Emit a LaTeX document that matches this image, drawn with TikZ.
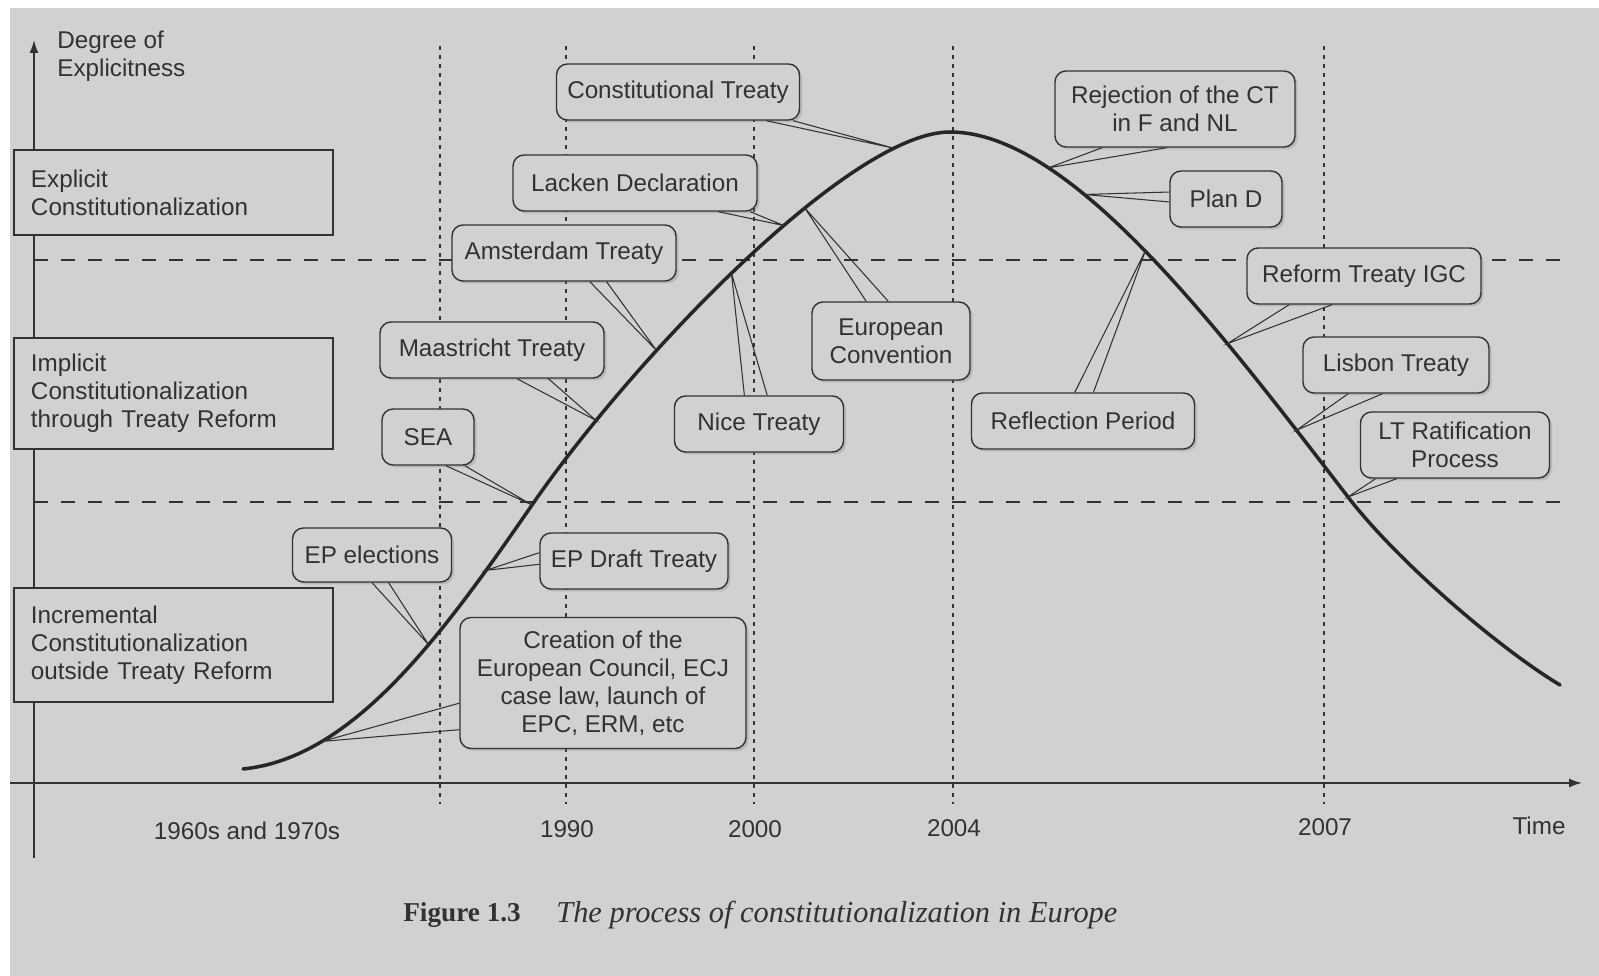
\documentclass[tikz,border=0pt]{standalone}
\usepackage{fontspec}
\setmainfont{Liberation Serif}
\setsansfont{Liberation Sans}
\usetikzlibrary{arrows.meta,shadows}
\definecolor{paper}{RGB}{209,209,209}
\definecolor{ink}{RGB}{50,50,50}
\newcommand{\labelfont}{\sffamily\fontsize{13.8}{16}\selectfont}
\tikzset{
    period/.style={
    rectangle,draw=ink,fill=paper,line width=0.8pt,text=ink,
    text width=57mm,inner xsep=3.4mm,align=left,font=\labelfont
    },
    event/.style={
    rectangle,rounded corners=2.2mm,draw=ink,fill=paper,line width=0.8pt,
    text=ink,align=center,minimum height=11.2mm,inner sep=1pt,font=\labelfont,
    drop shadow={shadow xshift=0.5mm,shadow yshift=-0.5mm,opacity=0.3}
    },
    callout/.style={draw=ink,line width=0.6pt},
    axis/.style={draw=ink,line width=0.9pt,-{Latex[length=2.6mm,width=1.8mm]}},
    level/.style={draw=ink,line width=0.8pt,dash pattern=on 2.8mm off 2.6mm},
    year/.style={draw=ink,line width=0.9pt,dash pattern=on 0.8mm off 1mm},
    tick/.style={text=ink,font=\labelfont},
    curve/.style={draw=black!85,line width=2pt,line cap=round},
}
\begin{document}
\begin{tikzpicture}[x=0.2mm,y=-0.2mm]
  \useasboundingbox (0,0) rectangle (1599,976);
  \fill[white] (0,0) rectangle (1599,976);
  \fill[paper] (10,8) rectangle (1599,976);

  \draw[level] (34,260) -- (1570,260);
  \draw[level] (34,502) -- (1570,502);
  \foreach \x in {440,566,754,953,1324}
    \draw[year] (\x,46) -- (\x,804);
  \draw[axis] (34,858) -- (34,40);
  \draw[axis] (10,783) -- (1582,783);

  % the curve, with the points the labels point at
  \draw[curve] (243,769) coordinate (c0)
    .. controls (353,758) and (442,635.5) .. (532,505) coordinate (tsea)
      coordinate[pos=0.25] (tcreat) coordinate[pos=0.62] (tepel)
      coordinate[pos=0.83] (tepdt)
    .. controls (632,360) and (850,132) .. (950,132) coordinate (ctop)
      coordinate[pos=0.18] (tmaas) coordinate[pos=0.32] (tamst)
      coordinate[pos=0.48] (tnice) coordinate[pos=0.59] (tlacken)
      coordinate[pos=0.635] (tconv) coordinate[pos=0.84] (tct)
    .. controls (1070,132) and (1218,328) .. (1348,497) coordinate (tltrat)
      coordinate[pos=0.26] (trejct) coordinate[pos=0.35] (tpland)
      coordinate[pos=0.5] (treflect) coordinate[pos=0.7] (treform)
      coordinate[pos=0.87] (tlisbon)
    .. controls (1398,562) and (1500,649) .. (1560,685) coordinate (c2);

  \node[tick,align=left,anchor=west,inner sep=0pt] (ylab) at (57,56) {Degree of\\Explicitness};
  \node[period,minimum height=17mm] (explicit) at (173.5,192.5) {Explicit\\Constitutionalization};
  \node[period,minimum height=22.2mm] (implicit) at (173.5,393.5) {Implicit\\Constitutionalization\\through Treaty Reform};
  \node[period,minimum height=22.8mm] (increm) at (173.5,645) {Incremental\\Constitutionalization\\outside Treaty Reform};

  \node[event,minimum width=48.6mm] (ct) at (678,92) {Constitutional Treaty};
  \node[event,minimum width=48.8mm] (lacken) at (635,183) {Lacken Declaration};
  \node[event,minimum width=44.8mm] (amst) at (564,253) {Amsterdam Treaty};
  \node[event,minimum width=44.8mm] (maas) at (492,350) {Maastricht Treaty};
  \node[event,minimum width=18.4mm] (sea) at (428,437) {SEA};
  \node[event,minimum width=31.8mm,minimum height=10.8mm] (epel) at (372,555) {EP elections};
  \node[event,minimum width=37.6mm] (epdt) at (634,561) {EP Draft Treaty};
  \node[event,minimum width=57.2mm,minimum height=26.2mm] (creat) at (603,683) {Creation of the\\European Council, ECJ\\case law, launch of\\EPC, ERM, etc};
  \node[event,minimum width=33.8mm] (nice) at (759,424) {Nice Treaty};
  \node[event,minimum width=31.6mm,minimum height=15.6mm] (conv) at (891,341) {European\\Convention};
  \node[event,minimum width=48mm,minimum height=15.2mm] (rejct) at (1175,109) {Rejection of the CT\\in F and NL};
  \node[event,minimum width=22.4mm] (pland) at (1226,199) {Plan D};
  \node[event,minimum width=46.8mm] (reform) at (1364,276) {Reform Treaty IGC};
  \node[event,minimum width=44.6mm] (reflect) at (1083,421) {Reflection Period};
  \node[event,minimum width=37.2mm] (lisbon) at (1396,365) {Lisbon Treaty};
  \node[event,minimum width=37.8mm,minimum height=13.2mm] (ltrat) at (1455,445) {LT Ratification\\Process};

  \draw[callout] (ct.-18) -- (tct) -- (ct.-14);
  \draw[callout] (lacken.-19) -- (tlacken) -- (lacken.-14);
  \draw[callout] (amst.-48) -- (tamst) -- (amst.-34);
  \draw[callout] (maas.-49) -- (tmaas) -- (maas.-27);
  \draw[callout] (sea.-58) -- (tsea) -- (sea.-38);
  \draw[callout] (epel.-90) -- (tepel) -- (epel.-59);
  \draw[callout] (epdt.175) -- (tepdt) -- (epdt.-178);
  \draw[callout] (creat.188) -- (tcreat) -- (creat.198);
  \draw[callout] (nice.117) -- (tnice) -- (nice.74);
  \draw[callout] (conv.122) -- (tconv) -- (conv.94);
  \draw[callout] (rejct.-152) -- (trejct) -- (rejct.-102);
  \draw[callout] (pland.173) -- (tpland) -- (pland.183);
  \draw[callout] (reform.-159) -- (treform) -- (reform.-138);
  \draw[callout] (reflect.106) -- (treflect) -- (reflect.70);
  \draw[callout] (lisbon.-149) -- (tlisbon) -- (lisbon.-115);
  \draw[callout] (ltrat.-157) -- (tltrat) -- (ltrat.-150);

  \node[tick] (l60) at (247,831) {1960s and 1970s};
  \node[tick] (l90) at (567,829) {1990};
  \node[tick] (l00) at (755,829) {2000};
  \node[tick] (l04) at (954,828) {2004};
  \node[tick] (l07) at (1325,827) {2007};
  \node[tick] (ltime) at (1539,826) {Time};

  \node[text=ink,anchor=west,inner sep=0pt,font=\fontsize{15.5}{18}\selectfont\bfseries] (fignum) at (403,915) {Figure 1.3};
  \node[text=ink,anchor=west,inner sep=0pt,font=\fontsize{17.3}{20}\selectfont\itshape] (figtitle) at (556,915) {The process of constitutionalization in Europe};
\end{tikzpicture}
\end{document}
